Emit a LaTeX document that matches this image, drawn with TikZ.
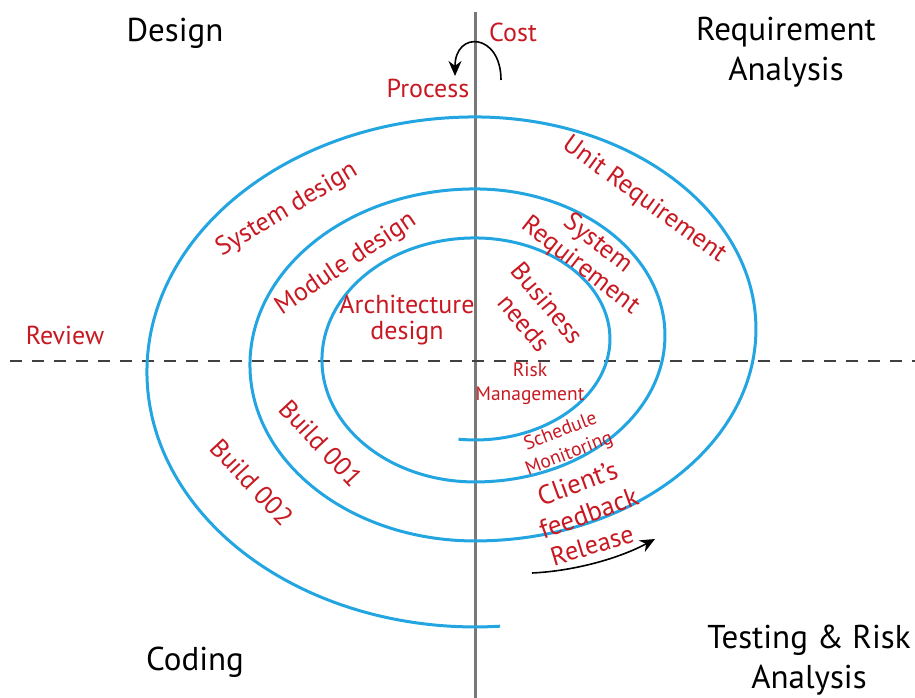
\documentclass[tikz,border=0pt]{standalone}
\usepackage{fontspec}
\setmainfont{PT Sans}
\usetikzlibrary{arrows.meta}
\definecolor{spiralblue}{RGB}{35,165,225}
\definecolor{labelred}{RGB}{200,25,35}
\definecolor{axisgray}{RGB}{120,120,120}

\begin{document}
\begin{tikzpicture}[x=1pt, y=1pt,
  phase/.style={font=\fontsize{33}{40}\selectfont, align=center, inner sep=1pt},
  tag/.style={text=labelred, font=\fontsize{26}{30}\selectfont, align=center, inner sep=0pt},
  smalltag/.style={text=labelred, font=\fontsize{19.5}{24}\selectfont, align=center, inner sep=0pt},
  flow/.style={-{Stealth[length=15pt,width=13pt]}, line width=1.6pt}]
\useasboundingbox (0,0) rectangle (915,698);
\draw [axisgray, line width=3pt] (475,0) -- (475,686); % axes
\draw [black!75, line width=1.6pt, dash pattern=on 12pt off 10pt] (10,337) -- (915,337);
% spiral: one half ellipse per half turn
\draw [spiralblue, line width=3pt] (458.5,258.8)
  arc[start angle=-97, end angle=90, x radius=135, y radius=101]
  arc[start angle=90, end angle=270, x radius=153, y radius=122]
  arc[start angle=-90, end angle=90, x radius=190, y radius=146.5]
  arc[start angle=90, end angle=270, x radius=225, y radius=176]
  arc[start angle=-90, end angle=90, x radius=281, y radius=212]
  arc[start angle=90, end angle=274.4, x radius=328, y radius=255];
% quadrant names
\node [phase] (design) at (175,665) {Design};
\node [phase] (reqana) at (786,646) {Requirement\\Analysis};
\node [phase] (coding) at (195,36) {Coding};
\node [phase] (testana) at (809,38) {Testing \& Risk\\Analysis};
% labels on the spiral
\node [tag] (cost) at (513,666) {Cost};
\node [tag] (process) at (428,610) {Process};
\node [tag] (review) at (65,363) {Review};
\node [tag, rotate=31] (sysdes) at (287,488) {System design};
\node [tag, rotate=34] (moddes) at (346,434) {Module design};
\node [tag, font=\fontsize{26}{26}\selectfont] (archdes) at (407,378) {Architecture\\design};
\node [tag, rotate=-36] (unitreq) at (644,498) {Unit Requirement};
\node [tag, rotate=-38, font=\fontsize{26}{28}\selectfont] (sysreq) at (589,443) {System\\Requirement};
\node [tag, rotate=-50, font=\fontsize{26}{31}\selectfont] (busneeds) at (536,385) {Business\\needs};
\node [smalltag] (riskman) at (530,314) {Risk\\Management};
\node [smalltag, rotate=21] (schedmon) at (565,255) {Schedule\\Monitoring};
\node [tag, rotate=20, font=\fontsize{27}{32}\selectfont] (clientfb) at (583,200) {Client's\\feedback};
\node [tag, rotate=17] (release) at (592,153) {Release};
\node [tag, rotate=-47] (build1) at (321,255) {Build 001};
\node [tag, rotate=-47] (build2) at (252,216) {Build 002};
% turning arrows
\coordinate (costfrom) at (501,618);
\coordinate (costto) at (455,622);
\coordinate (relfrom) at (532,125);
\coordinate (relto) at (655,159);
\draw [flow] (costfrom) .. controls (501,665) and (455,668) .. (costto);
\draw [flow] (relfrom) .. controls (575,127) and (620,140) .. (relto);
\end{tikzpicture}
\end{document}
